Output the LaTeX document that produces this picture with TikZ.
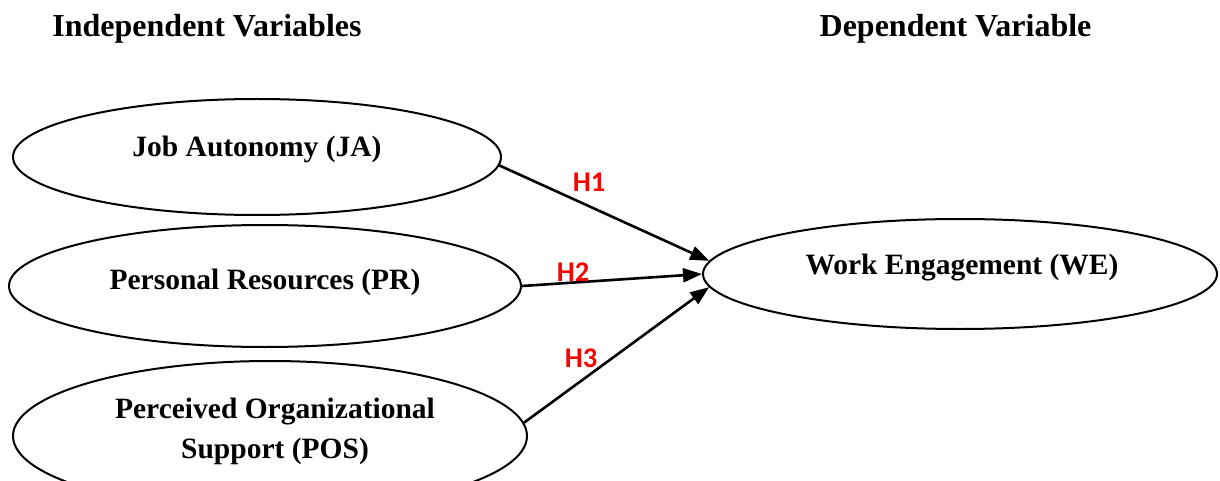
\documentclass[tikz,border=0pt]{standalone}
\usepackage{fontspec}
\setmainfont{Liberation Serif}
\newfontfamily\hfont{Carlito}
\usetikzlibrary{shapes.geometric,arrows.meta}
\begin{document}
\begin{tikzpicture}[x=1pt,y=-1pt,
  var/.style={draw,ellipse,line width=2pt,inner sep=0pt},
  vtext/.style={font=\bfseries\fontsize{29.5}{40}\selectfont,inner sep=0pt,align=center},
  head/.style={anchor=base,font=\bfseries\fontsize{32}{38}\selectfont,inner sep=0pt},
  hyp/.style={anchor=base,font=\hfont\bfseries\fontsize{28.5}{30}\selectfont,text=red,inner sep=0pt},
  link/.style={line width=2.6pt,-{Triangle[length=19pt,width=14pt]}}]
\useasboundingbox (0,0) rectangle (1220,481);
\clip (0,0) rectangle (1220,481);
\fill[white] (0,0) rectangle (1220,481);

% headers
\node[head] (hind) at (207,37) {Independent Variables};
\node[head] (hdep) at (955.5,37) {Dependent Variable};

% ellipses
\node[var,minimum width=488pt,minimum height=116pt] (JA) at (257,157) {};
\node[var,minimum width=512pt,minimum height=122pt] (PR) at (265,286) {};
\node[var,minimum width=514pt,minimum height=150pt] (POS) at (270,436) {};
\node[var,minimum width=514pt,minimum height=110pt] (WE) at (960,274) {};

% texts
\node[vtext,anchor=base] (JAt) at (JA.center) {Job Autonomy (JA)};
\node[vtext,anchor=base] (PRt) at ([yshift=-3pt]PR.center) {Personal Resources (PR)};
\node[vtext,anchor=center] (POSt) at ([shift={(5,-5)}]POS.center) {Perceived Organizational\\Support (POS)};
\node[vtext,anchor=base] (WEt) at ([shift={(2,0)}]WE.center) {Work Engagement (WE)};

% connectors
\draw[link] (JA.-2) -- (WE.177);
\draw[link] (PR.-0.5) -- (WE.180);
\draw[link] (POS.3) -- (WE.183.5);

% hypothesis labels
\node[hyp] (h1) at (589,192) {H1};
\node[hyp] (h2) at (573,281) {H2};
\node[hyp] (h3) at (581,367) {H3};
\end{tikzpicture}
\end{document}
